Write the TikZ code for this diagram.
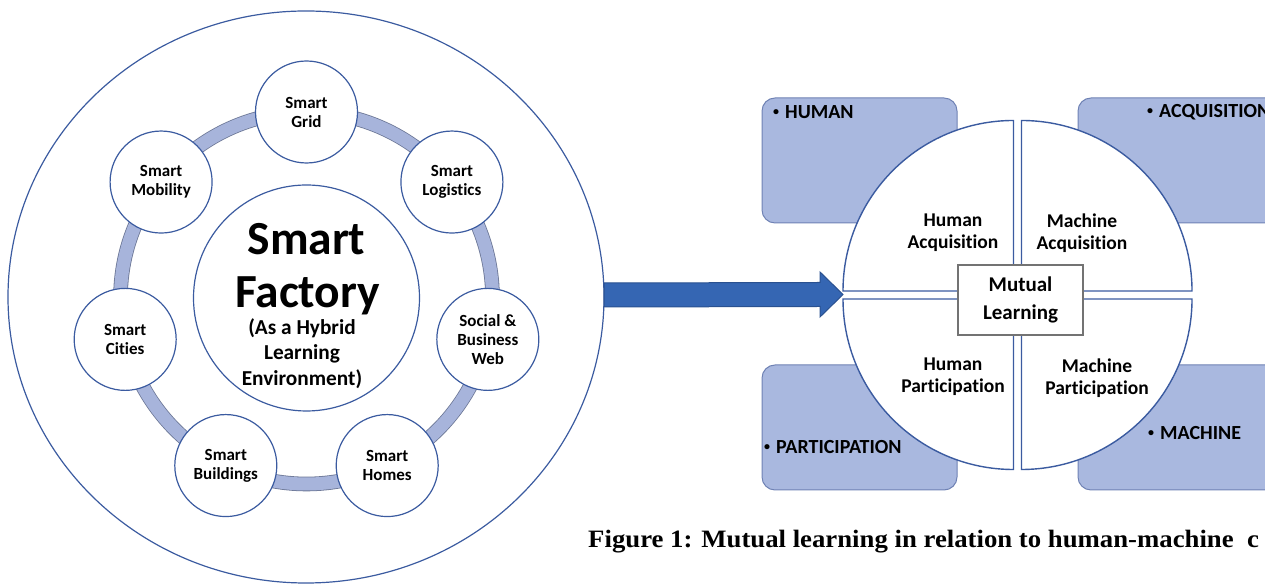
\documentclass[tikz,border=0pt]{standalone}
\usepackage{fontspec}
\setmainfont{Carlito}[Ligatures=NoCommon]
\newfontfamily\captionfont{Liberation Serif}
\definecolor{ringblue}{HTML}{A7B4DB}
\definecolor{ringedge}{HTML}{6C7796}
\definecolor{circedge}{HTML}{3B5BA0}
\definecolor{arrowblue}{HTML}{3566B3}
\definecolor{arrowedge}{HTML}{2A5190}
\definecolor{boxblue}{HTML}{A9B8DF}
\definecolor{boxedge}{HTML}{6F82B4}
\newcommand{\dotmark}{\raisebox{3pt}{\fontsize{12}{12}\selectfont•}\hspace{6pt}}
\tikzset{
  smartnode/.style={circle, draw=circedge, line width=1.2pt, fill=white, minimum size=102pt, inner sep=0pt, align=center, font=\bfseries\fontsize{17}{19}\selectfont},
  hub/.style={circle, draw=circedge, line width=1.2pt, fill=white, minimum size=226pt, inner sep=0pt},
  hubline/.style={anchor=base, inner sep=0pt, font=\bfseries\fontsize{21.3}{25}\selectfont},
  ringpath/.style={draw=ringedge, line width=0.8pt, double=ringblue, double distance=13pt},
  cornerbox/.style={draw=boxedge, line width=1pt, fill=boxblue, rounded corners=13pt},
  quarter/.style={draw=circedge, line width=1.4pt, fill=white},
  tagline/.style={anchor=west, inner sep=0pt, font=\bfseries\fontsize{20}{22}\selectfont},
  quadtext/.style={align=center, inner sep=0pt, font=\bfseries\fontsize{19.5}{22}\selectfont},
}
\begin{document}
\begin{tikzpicture}[x=1pt, y=1pt]
\useasboundingbox (0,0) rectangle (1265,585);

% smart factory
\coordinate (sf) at (306.5,287);
\draw[circedge, line width=1.2pt] (306,288) ellipse[x radius=298pt, y radius=286pt];
\draw[ringpath] (sf) circle[radius=186pt];
\node[hub] (factory) at (sf) {};
\node[hubline, font=\bfseries\fontsize{47.5}{53}\selectfont] (sfa) at (306.5,330) {Smart};
\node[hubline, font=\bfseries\fontsize{47.5}{53}\selectfont] (sfb) at (307.5,277) {Factory};
\node[hubline] (sfc) at (302,250) {(As a Hybrid};
\node[hubline] (sfd) at (302,225) {Learning};
\node[hubline] (sfe) at (302,199) {Environment)};
\foreach \name/\txt [count=\i from 0] in {grid/Smart\\Grid, logistics/Smart\\Logistics, social/Social \&\\Business\\Web, homes/Smart\\Homes, buildings/Smart\\Buildings, cities/Smart\\Cities, mobility/Smart\\Mobility}
  \node[smartnode] (\name) at ([shift={(90-\i*360/7:186pt)}]sf) {\txt};

% arrow
\coordinate (tail) at (604,290);
\coordinate (tip) at (843,290.5);
\draw[draw=arrowedge, fill=arrowblue, line width=1pt] ([yshift=12pt]tail) -- ([xshift=-23pt,yshift=12pt]tip) -- ([xshift=-23pt,yshift=22.5pt]tip) -- (tip) -- ([xshift=-23pt,yshift=-22.5pt]tip) -- ([xshift=-23pt,yshift=-12pt]tip) -- ([yshift=-12pt]tail) -- cycle;

% mutual learning
\coordinate (ml) at (1017.5,290);
\draw[cornerbox] (762,362) rectangle (957,487);
\draw[cornerbox] (1078,362) rectangle (1290,487);
\draw[cornerbox] (762,95) rectangle (957,220);
\draw[cornerbox] (1078,95) rectangle (1290,220);
\node[tagline] (human) at (773,473) {\dotmark HUMAN};
\node[tagline] (acquisition) at (1147,473) {\dotmark ACQUISITION};
\node[tagline] (participation) at (764,138) {\dotmark PARTICIPATION};
\node[tagline] (machine) at (1148,152) {\dotmark MACHINE};
\foreach \a in {0,90,180,270}
  \draw[quarter] ([shift={(\a+45:5.66pt)}]ml) -- ++(\a:170.5pt) arc[start angle=\a, end angle=\a+90, radius=170.5pt] -- cycle;
\node[quadtext] (hacq) at (953,352) {Human\\Acquisition};
\node[quadtext] (macq) at (1082,352) {Machine\\Acquisition};
\node[quadtext] (hpart) at (953,208) {Human\\Participation};
\node[quadtext] (mpart) at (1097,207) {Machine\\Participation};
\node[draw=black!55, fill=white, line width=1.2pt, minimum width=125pt, minimum height=70pt, align=center, font=\bfseries\fontsize{21}{28}\selectfont] (mutual) at (1020.5,285) {Mutual\\Learning};

\node[anchor=base west, inner sep=0pt, xscale=1.07, font=\captionfont\bfseries\fontsize{25}{28}\selectfont] (caption) at (588,37) {Figure 1: Mutual learning in relation to human-machine\ \ c};
\end{tikzpicture}
\end{document}
